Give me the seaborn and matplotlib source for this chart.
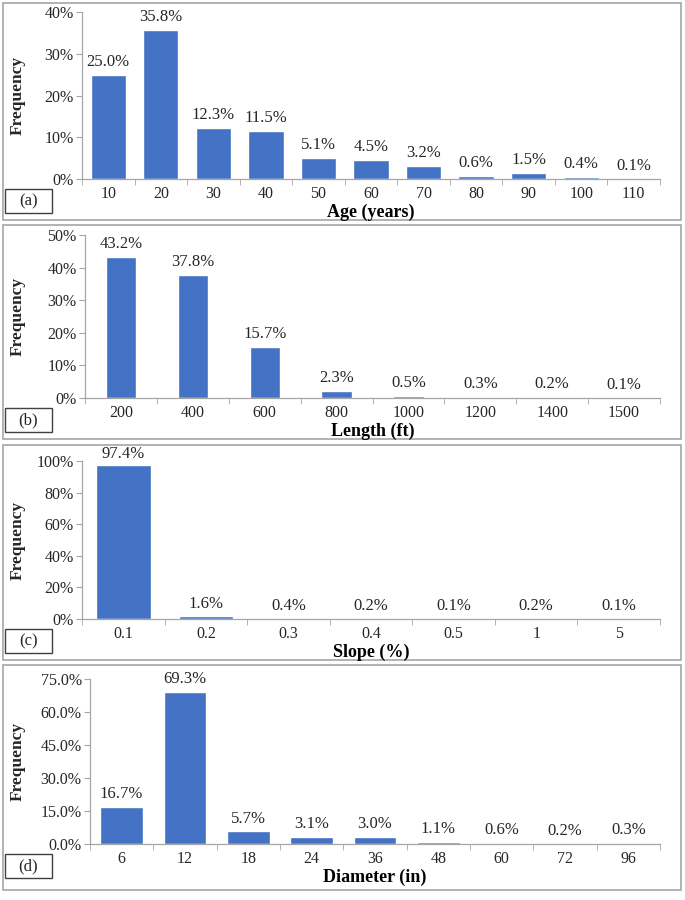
import matplotlib
matplotlib.use("Agg")
import matplotlib.pyplot as plt
import matplotlib.patches as patches
from matplotlib.ticker import FuncFormatter, FixedLocator
import seaborn as sns
import pandas as pd

# Data
age_bins = ["10", "20", "30", "40", "50", "60", "70", "80", "90", "100", "110"]
age_freq = [25.0, 35.8, 12.3, 11.5, 5.1, 4.5, 3.2, 0.6, 1.5, 0.4, 0.1]

length_bins = ["200", "400", "600", "800", "1000", "1200", "1400", "1500"]
length_freq = [43.2, 37.8, 15.7, 2.3, 0.5, 0.3, 0.2, 0.1]

slope_bins = ["0.1", "0.2", "0.3", "0.4", "0.5", "1", "5"]
slope_freq = [97.4, 1.6, 0.4, 0.2, 0.1, 0.2, 0.1]

diam_bins = ["6", "12", "18", "24", "36", "48", "60", "72", "96"]
diam_freq = [16.7, 69.3, 5.7, 3.1, 3.0, 1.1, 0.6, 0.2, 0.3]

sns.set_style("white")
plt.rcParams["font.family"] = ["Liberation Serif", "DejaVu Serif"]

BAR = "#4472C4"
EDGE = "#A6A6A6"
TXT = "#262626"
W, H = 685, 900

fig = plt.figure(figsize=(W / 100, H / 100), dpi=100)


def px_axes(x0, x1, y0, y1):
    return fig.add_axes([x0 / W, 1 - y1 / H, (x1 - x0) / W, (y1 - y0) / H])


def px_rect(x0, x1, y0, y1, lw=1.2, color=EDGE):
    fig.patches.append(patches.Rectangle((x0 / W, 1 - y1 / H), (x1 - x0) / W, (y1 - y0) / H,
                                         transform=fig.transFigure, fill=False,
                                         edgecolor=color, linewidth=lw))


panels = [
    # bins, freq, xlabel, tag, axes px, box px, ymax, ystep, fmt, bar width
    (age_bins, age_freq, "Age (years)", "(a)", (82, 660, 12, 179), (3, 681, 3, 220), 40, 10, "{:.0f}%", 0.67),
    (length_bins, length_freq, "Length (ft)", "(b)", (85, 660, 235, 398), (3, 681, 225, 439), 50, 10, "{:.0f}%", 0.42),
    (slope_bins, slope_freq, "Slope (%)", "(c)", (82, 660, 461, 619), (3, 681, 445, 660), 100, 20, "{:.0f}%", 0.66),
    (diam_bins, diam_freq, "Diameter (in)", "(d)", (90, 660, 679, 844), (3, 681, 665, 890), 75, 15, "{:.1f}%", 0.67),
]

for bins, freq, xlabel, tag, ax_px, box_px, ymax, ystep, fmt, bw in panels:
    px_rect(*box_px)
    ax = px_axes(*ax_px)
    df = pd.DataFrame({"bin": bins, "freq": freq})
    sns.barplot(data=df, x="bin", y="freq", order=bins, color=BAR, width=bw,
                saturation=1, ax=ax)
    n = len(bins)
    ax.set_xlim(-0.5, n - 0.5)
    ax.set_ylim(0, ymax)
    ax.set_yticks(range(0, ymax + 1, ystep))
    ax.yaxis.set_major_formatter(FuncFormatter(lambda v, p, f=fmt: f.format(v)))
    ax.xaxis.set_minor_locator(FixedLocator([i - 0.5 for i in range(n + 1)]))
    ax.tick_params(axis="x", which="major", length=0, pad=5, labelsize=11.5, labelcolor=TXT)
    ax.tick_params(axis="x", which="minor", length=4, color=EDGE, direction="out", bottom=True)
    ax.tick_params(axis="y", length=4, color=EDGE, direction="out", left=True,
                   labelsize=11.5, pad=2, labelcolor=TXT)
    for s in ["top", "right"]:
        ax.spines[s].set_visible(False)
    for s in ["left", "bottom"]:
        ax.spines[s].set_color(EDGE)
        ax.spines[s].set_linewidth(0.9)
    for i, v in enumerate(freq):
        ty = min(v + ymax * 0.03, ymax * 0.995)
        ax.text(i, ty, f"{v:.1f}%", ha="center", va="bottom",
                fontsize=12, color=TXT, clip_on=False)
    ax.set_xlabel("")
    ax.set_ylabel("Frequency", fontsize=12.5, fontweight="bold", color=TXT)
    ax.yaxis.set_label_coords(-(ax_px[0] - 26) / (ax_px[1] - ax_px[0]), 0.5)

    # x label and panel tag in figure pixels
    fig.text((ax_px[0] + ax_px[1]) / 2 / W, 1 - (ax_px[3] + 33) / H, xlabel,
             ha="center", va="center", fontsize=13, fontweight="bold", color="black")
    tx0, ty1 = 5, ax_px[3] + 10
    px_rect(tx0, 52, ty1, ty1 + 24, lw=1.0, color="#404040")
    fig.text((tx0 + 52) / 2 / W, 1 - (ty1 + 12) / H, tag, ha="center", va="center",
             fontsize=12, color=TXT)

fig.savefig("out.png", dpi=100)
